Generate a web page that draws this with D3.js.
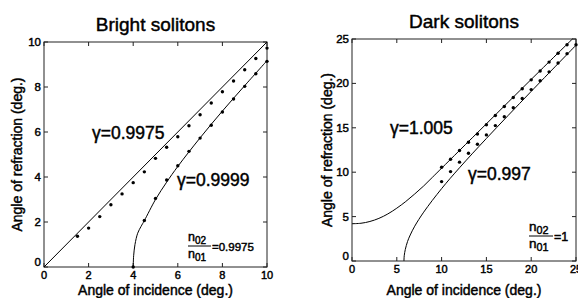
<!DOCTYPE html>
<html><head><meta charset="utf-8">
<script src="https://cdn.jsdelivr.net/npm/d3@7"></script>
<style>
body{margin:0;background:#fff;}
svg text{font-family:"Liberation Sans",Arial,sans-serif;fill:#000;stroke:#000;stroke-width:0.45px;}
</style></head>
<body><svg id="c" width="578" height="298"></svg>
<script>
// ---- Bright solitons (left) ----
const brightTicks = [0,2,4,6,8,10];
const brightLineA = [[0,0],[10,10]];                       // gamma = 0.9975 theory
const brightCurveB = [[4,0],[4.02,0.5],[4.08,1.0],[4.2,1.5],[4.35,1.8],[4.5,2.06],[5,3.0],[5.5,3.77],[6,4.47],[7,5.74],[8,6.93],[9,8.06],[10,9.17]]; // gamma=0.9999 theory
const brightPtsAx = [1.5,2,2.5,3,3.5,4,4.5,5,5.5,6,6.5,7,7.5,8,8.5,9,9.5,10];
const brightPtsAy = [1.37,1.73,2.24,2.77,3.25,3.75,4.23,4.83,5.32,5.79,6.28,6.77,7.29,7.79,8.27,8.77,9.27,9.73];
const brightPtsBx = [4,4.5,5,5.5,6,6.5,7,7.5,8,8.5,9,9.5,10];
const brightPtsBy = [0,2.07,3.05,3.87,4.5,5.14,5.73,6.3,6.89,7.47,8.03,8.59,9.14];

// ---- Dark solitons (right) ----
const darkTicks = [0,5,10,15,20,25];
const darkCurveA = [[0,4.2],[1,4.25],[2,4.45],[3,4.8],[4,5.3],[5,5.95],[6,6.7],[7,7.55],[8,8.45],[9,9.45],[10,10.45],[12,12.45],[15,15.45],[20,20.45],[24.6,25]]; // gamma=1.005
const darkCurveB = [[5.8,0],[5.83,0.6],[5.95,1.3],[6.2,2.2],[6.5,2.93],[7,3.92],[8,5.5],[10,8.15],[12,10.5],[15,13.8],[20,19.1],[25,24.3]]; // gamma=0.997
const darkPtsAx = [10,11,12,13,14,15,16,17,18,19,20,21,22,23,24];
const darkPtsAy = [10.56,11.46,12.44,13.38,14.3,15.35,16.38,17.4,18.41,19.39,20.4,21.4,22.4,23.4,24.35];
const darkPtsBx = [10,11,12,13,14,15,16,17,18,19,20,21,22,23,24,25];
const darkPtsBy = [8.94,10.07,11.13,12.14,13.15,14.2,15.25,16.25,17.25,18.3,19.3,20.3,21.3,22.3,23.35,24.35];

const svg = d3.select("#c");

function panel(o){
  const g = svg.append("g");
  const x = d3.scaleLinear().domain(o.dom).range([o.x0,o.x1]);
  const y = d3.scaleLinear().domain(o.dom).range([o.y0,o.y1]);
  g.append("rect").attr("x",o.x0).attr("y",o.y1).attr("width",o.x1-o.x0).attr("height",o.y0-o.y1)
    .attr("fill","none").attr("stroke","#222").attr("stroke-width",1);
  const tl=4;
  o.ticks.forEach(t=>{
    g.append("line").attr("x1",x(t)).attr("x2",x(t)).attr("y1",o.y0).attr("y2",o.y0-tl).attr("stroke","#222");
    g.append("line").attr("x1",x(t)).attr("x2",x(t)).attr("y1",o.y1).attr("y2",o.y1+tl).attr("stroke","#222");
    g.append("line").attr("y1",y(t)).attr("y2",y(t)).attr("x1",o.x0).attr("x2",o.x0+tl).attr("stroke","#222");
    g.append("line").attr("y1",y(t)).attr("y2",y(t)).attr("x1",o.x1).attr("x2",o.x1-tl).attr("stroke","#222");
  });
  o.ticks.forEach(t=>{
    g.append("text").attr("x",x(t)).attr("y",o.y0+12).attr("text-anchor","middle").attr("font-size",11).text(t);
    g.append("text").attr("x",o.x0-3).attr("y",y(t)+(t===0? -1:4)).attr("text-anchor","end").attr("font-size",11.5).text(t);
  });
  const line = d3.line().x(d=>x(d[0])).y(d=>y(d[1])).curve(d3.curveCatmullRom.alpha(0.5));
  o.curves.forEach(c=>{
    g.append("path").attr("d",line(c)).attr("fill","none").attr("stroke","#000").attr("stroke-width",1);
  });
  o.pts.forEach(p=>{
    g.selectAll(null).data(d3.zip(p[0],p[1])).join("circle")
      .attr("cx",d=>x(d[0])).attr("cy",d=>y(d[1])).attr("r",1.7).attr("fill","#000");
  });
  g.append("text").attr("x",(o.x0+o.x1)/2).attr("y",o.titleY).attr("text-anchor","middle").attr("font-size",19).text(o.title);
  g.append("text").attr("x",(o.x0+o.x1)/2).attr("y",294.5).attr("text-anchor","middle").attr("font-size",14).text("Angle of incidence (deg.)");
  g.append("text").attr("transform",`translate(${o.ylabX},${(o.y0+o.y1)/2}) rotate(-90)`).attr("text-anchor","middle").attr("font-size",14).text("Angle of refraction (deg.)");
  return {x,y,g};
}

panel({dom:[0,10],x0:44,x1:267,y0:267,y1:42,ticks:brightTicks,
  curves:[brightLineA,brightCurveB],pts:[[brightPtsAx,brightPtsAy],[brightPtsBx,brightPtsBy]],
  title:"Bright solitons",titleY:30.5,ylabX:22});
panel({dom:[0,25],x0:352,x1:576,y0:261,y1:39,ticks:darkTicks,
  curves:[darkCurveA,darkCurveB],pts:[[darkPtsAx,darkPtsAy],[darkPtsBx,darkPtsBy]],
  title:"Dark solitons",titleY:28,ylabX:332});

function txt(x,y,s,fs,anchor){ svg.append("text").attr("x",x).attr("y",y).attr("font-size",fs).attr("text-anchor",anchor||"start").text(s); }
txt(92,139,"γ=0.9975",17.5);
txt(177,186,"γ=0.9999",17.5);
txt(390,134,"γ=1.005",17.5);
txt(468,180,"γ=0.997",17.5);

function frac(x,y,w,tail,fs){
  const t1 = svg.append("text").attr("x",x).attr("y",y-6).attr("font-size",fs);
  t1.append("tspan").text("n"); t1.append("tspan").attr("font-size",fs*0.8).attr("dy",3).text("02");
  svg.append("line").attr("x1",x).attr("x2",x+w).attr("y1",y-1).attr("y2",y-1).attr("stroke","#000").attr("stroke-width",1);
  const t2 = svg.append("text").attr("x",x).attr("y",y+11).attr("font-size",fs);
  t2.append("tspan").text("n"); t2.append("tspan").attr("font-size",fs*0.8).attr("dy",3).text("01");
  svg.append("text").attr("x",x+w+1).attr("y",y+4).attr("font-size",fs-1).text(tail);
}
frac(188,247,23,"=0.9975",12.5);
frac(529,237,24,"=1",13.5);
</script></body></html>
